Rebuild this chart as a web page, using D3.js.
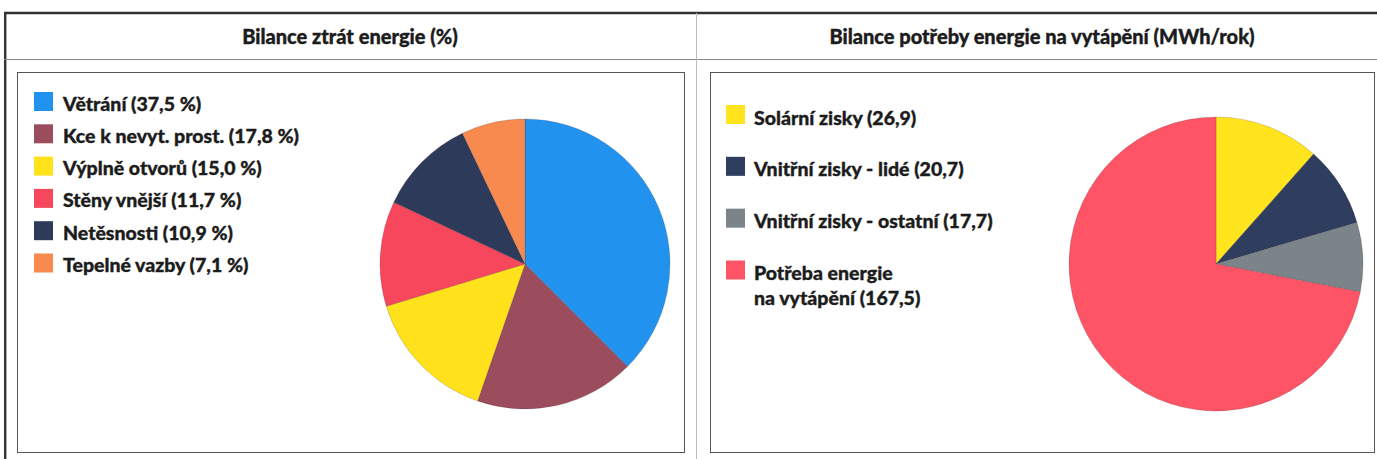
<!DOCTYPE html>
<html>
<head>
<meta charset="utf-8">
<script src="https://cdn.jsdelivr.net/npm/d3@7"></script>
<style>
  html, body { margin: 0; padding: 0; background: #fff; }
  svg { display: block; }
  text { font-family: Lato, "Open Sans", sans-serif; font-weight: 900; fill: #1c1c1c; stroke: #1c1c1c; stroke-width: 0.35; }
</style>
</head>
<body>
<svg id="chart" width="1377" height="459"></svg>
<script>
// ---- Data ----
const lossTitle = "Bilance ztrát energie (%)";
const lossCategories = ["Větrání", "Kce k nevyt. prost.", "Výplně otvorů", "Stěny vnější", "Netěsnosti", "Tepelné vazby"];
const lossValues = [37.5, 17.8, 15.0, 11.7, 10.9, 7.1];
const lossColors = ["#2292ef", "#9c4d5d", "#ffe21c", "#f7475c", "#2e3a5a", "#f88a50"];

const heatTitle = "Bilance potřeby energie na vytápění (MWh/rok)";
const heatCategories = ["Solární zisky", "Vnitřní zisky - lidé", "Vnitřní zisky - ostatní", "Potřeba energie|na vytápění"];
const heatValues = [26.9, 20.7, 17.7, 167.5];
const heatColors = ["#ffe41e", "#2f3d5f", "#7b8489", "#ff5466"];

const fmt = v => d3.format(".1f")(v).replace(".", ",");

const svg = d3.select("#chart");

// ---- Frame ----
const frame = svg.append("g");
frame.append("line").attr("x1", 4).attr("x2", 1377).attr("y1", 13).attr("y2", 13).attr("stroke", "#333").attr("stroke-width", 2.4);
frame.append("line").attr("x1", 5.2).attr("x2", 5.2).attr("y1", 12).attr("y2", 459).attr("stroke", "#333").attr("stroke-width", 2.4);
frame.append("line").attr("x1", 4).attr("x2", 1377).attr("y1", 59.5).attr("y2", 59.5).attr("stroke", "#888").attr("stroke-width", 1);
frame.append("line").attr("x1", 696.5).attr("x2", 696.5).attr("y1", 13).attr("y2", 459).attr("stroke", "#bbb").attr("stroke-width", 1);
frame.append("rect").attr("x", 17.5).attr("y", 72.5).attr("width", 667).attr("height", 380).attr("fill", "none").attr("stroke", "#555").attr("stroke-width", 1);
frame.append("rect").attr("x", 710.5).attr("y", 72.5).attr("width", 664).attr("height", 380).attr("fill", "none").attr("stroke", "#555").attr("stroke-width", 1);

// ---- Titles ----
const titleSize = 20;
svg.append("text").attr("x", 350).attr("y", 44).attr("text-anchor", "middle").attr("font-size", titleSize).text(lossTitle);
svg.append("text").attr("x", 1042).attr("y", 44).attr("text-anchor", "middle").attr("font-size", titleSize).text(heatTitle);

// ---- Pie helper ----
function drawPie(values, colors, cx, cy, r) {
  const pie = d3.pie().sort(null).value(d => d);
  const arc = d3.arc().innerRadius(0).outerRadius(r);
  const g = svg.append("g").attr("transform", `translate(${cx},${cy})`);
  g.selectAll("path").data(pie(values)).join("path")
    .attr("d", arc)
    .attr("fill", (d, i) => colors[i])
    .attr("stroke", "rgba(60,40,40,0.3)")
    .attr("stroke-width", 0.6);
}

drawPie(lossValues, lossColors, 525, 264, 145);
drawPie(heatValues, heatColors, 1216, 264, 147);

// ---- Legends ----
const legendSize = 19.5;
const lossY = d3.scalePoint().domain(d3.range(lossCategories.length)).range([101.5, 263]);
const lg1 = svg.append("g");
lossCategories.forEach((c, i) => {
  const y = lossY(i);
  lg1.append("rect").attr("x", 34).attr("y", y - 9.5).attr("width", 19).attr("height", 19).attr("fill", lossColors[i]);
  lg1.append("text").attr("x", 63).attr("y", y + 9).attr("font-size", legendSize)
    .text(`${c} (${fmt(lossValues[i])} %)`);
});

const heatY = d3.scalePoint().domain(d3.range(heatCategories.length)).range([114.5, 270]);
const lg2 = svg.append("g");
heatCategories.forEach((c, i) => {
  const y = heatY(i);
  lg2.append("rect").attr("x", 726).attr("y", y - 9.5).attr("width", 19).attr("height", 19).attr("fill", heatColors[i]);
  const parts = c.split("|");
  const t = lg2.append("text").attr("x", 754).attr("y", y + 10).attr("font-size", legendSize);
  parts.forEach((p, j) => {
    const last = j === parts.length - 1;
    t.append("tspan").attr("x", 754).attr("dy", j === 0 ? 0 : 25)
      .text(last ? `${p} (${fmt(heatValues[i])})` : p);
  });
});
</script>
</body>
</html>
